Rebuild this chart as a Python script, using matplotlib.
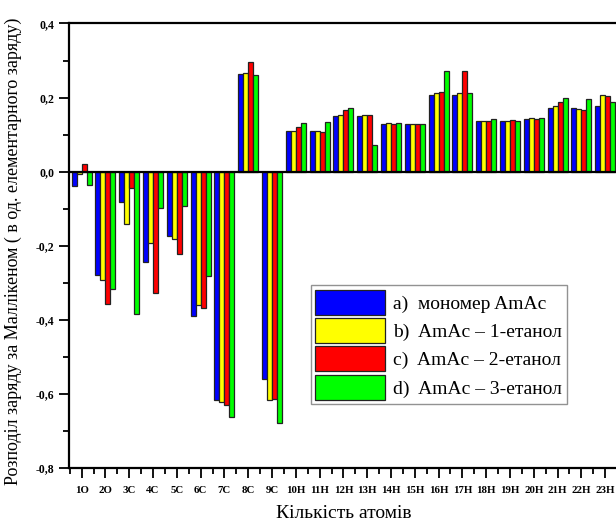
import numpy as np
import matplotlib
matplotlib.use('Agg')
import matplotlib.pyplot as plt
from matplotlib.ticker import MultipleLocator, FuncFormatter

plt.rcParams['font.family'] = ['Liberation Serif', 'DejaVu Serif']

atoms = ['1O', '2O', '3C', '4C', '5C', '6C', '7C', '8C', '9C', '10H', '11H', '12H',
         '13H', '14H', '15H', '16H', '17H', '18H', '19H', '20H', '21H', '22H', '23H']

monomer = [-0.040, -0.278, -0.082, -0.243, -0.174, -0.390, -0.617, 0.263, -0.561,
           0.110, 0.111, 0.150, 0.150, 0.129, 0.129, 0.206, 0.206, 0.138, 0.138,
           0.142, 0.172, 0.172, 0.178]
ethanol1 = [-0.007, -0.293, -0.142, -0.193, -0.183, -0.360, -0.623, 0.267, -0.616,
            0.111, 0.111, 0.153, 0.153, 0.131, 0.130, 0.212, 0.213, 0.137, 0.138,
            0.144, 0.177, 0.169, 0.208]
ethanol2 = [0.021, -0.358, -0.043, -0.328, -0.223, -0.368, -0.631, 0.295, -0.613,
            0.121, 0.107, 0.166, 0.152, 0.129, 0.130, 0.215, 0.271, 0.138, 0.140,
            0.143, 0.188, 0.166, 0.205]
ethanol3 = [-0.036, -0.318, -0.383, -0.098, -0.092, -0.281, -0.661, 0.261, -0.679,
            0.131, 0.135, 0.171, 0.073, 0.131, 0.130, 0.271, 0.211, 0.141, 0.138,
            0.146, 0.199, 0.197, 0.189]

series = [monomer, ethanol1, ethanol2, ethanol3]
labels = ['a)  мономер AmAc', 'b)  AmAc – 1-етанол', 'c)  AmAc – 2-етанол', 'd)  AmAc – 3-етанол']
colors = ['#0000ff', '#ffff00', '#ff0000', '#00ff00']

fig = plt.figure(figsize=(6.16, 5.29), dpi=100)
ax = fig.add_axes([0.1125, 0.1153, 0.89, 0.8403])

x = np.arange(1, len(atoms) + 1)
w = 0.21
for k, (vals, lab, c) in enumerate(zip(series, labels, colors)):
    ax.bar(x + (k - 1.5) * w, vals, w, color=c, edgecolor='#222222', linewidth=0.9, label=lab, zorder=2)

ax.axhline(0, color='black', linewidth=1.6, zorder=3)
ax.set_xlim(0.48, 23.52)
ax.set_ylim(-0.8, 0.4)

ax.set_xticks(x)
ax.set_xticklabels(atoms, fontsize=7.8, fontweight='bold')
ax.xaxis.set_minor_locator(MultipleLocator(0.5))
ax.yaxis.set_major_locator(MultipleLocator(0.2))
ax.yaxis.set_minor_locator(MultipleLocator(0.1))
ax.yaxis.set_major_formatter(FuncFormatter(lambda v, p: ('%.1f' % v).replace('.', ',')))
for t in ax.get_yticklabels():
    t.set_fontweight('bold')
    t.set_fontsize(8.5)
ax.tick_params(axis='both', which='major', direction='out', length=7, width=1.3)
ax.tick_params(axis='both', which='minor', direction='out', length=4, width=1.3)
ax.tick_params(axis='x', which='major', pad=6)

for s in ax.spines.values():
    s.set_linewidth(1.6)

ax.set_xlabel('Кількість атомів', fontsize=14, labelpad=7)
ax.set_ylabel('Розподіл заряду за Маллікеном ( в од. елементарного заряду)', fontsize=13)
ax.yaxis.set_label_coords(-0.087, 0.487)

leg = ax.legend(loc='upper left', bbox_to_anchor=(0.44, 0.412), fontsize=14, frameon=True,
                fancybox=False, edgecolor='#777777', handlelength=3.6, handleheight=1.6,
                handletextpad=0.4, labelspacing=0.17, borderpad=0.25, borderaxespad=0)
leg.get_frame().set_linewidth(1.0)

plt.savefig('out.png', dpi=100)
